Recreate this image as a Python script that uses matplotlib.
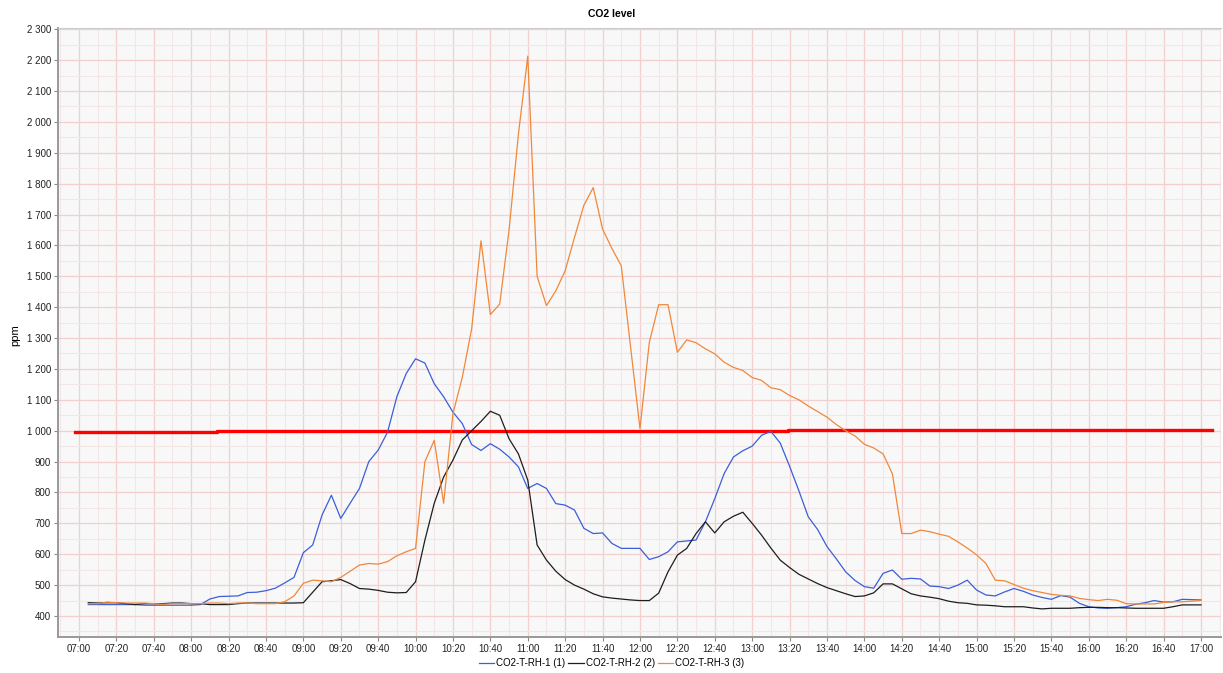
import numpy as np
import pandas as pd
import matplotlib
matplotlib.use("Agg")
import matplotlib.pyplot as plt
from matplotlib.ticker import MultipleLocator, FuncFormatter

# sampling times (every 5 min, 07:05 .. 17:00)
times = pd.date_range("2000-01-01 07:05", "2000-01-01 17:00", freq="5min")

co2_rh_1 = [
    437, 437, 437, 437, 437, 437, 435, 435, 435, 435, 435, 435,
    437, 455, 463, 464, 465, 476, 477, 482, 490, 507, 525, 605,
    630, 727, 791, 716, 765, 813, 900, 937, 995, 1110, 1185, 1233,
    1219, 1152, 1110, 1060, 1023, 955, 936, 958, 940, 915, 883, 813,
    829, 813, 764, 759, 743, 684, 667, 669, 635, 619, 619, 619,
    583, 592, 608, 640, 643, 646, 705, 780, 861, 915, 935, 950,
    985, 998, 960, 885, 805, 721, 680, 625, 585, 543, 515, 495,
    490, 538, 549, 519, 522, 520, 497, 495, 489, 500, 516, 484,
    468, 465, 478, 489, 480, 468, 460, 454, 466, 461, 441, 430,
    426, 425, 427, 430, 438, 443, 450, 445, 446, 454, 453, 452,
]

co2_rh_2 = [
    443, 442, 443, 443, 440, 437, 440, 440, 440, 442, 442, 440,
    440, 437, 437, 437, 440, 442, 442, 442, 442, 442, 442, 443,
    477, 511, 514, 518, 505, 489, 487, 483, 477, 475, 476, 511,
    646, 765, 850, 905, 970, 1000, 1030, 1063, 1050, 974, 925, 840,
    630, 581, 545, 518, 500, 487, 472, 462, 458, 455, 452, 450,
    450, 474, 543, 597, 619, 667, 705, 669, 705, 723, 736, 700,
    662, 620, 581, 557, 535, 520, 505, 492, 482, 472, 463, 465,
    475, 504, 504, 488, 472, 465, 461, 456, 448, 443, 441, 436,
    435, 433, 430, 430, 430, 426, 423, 425, 425, 425, 427, 428,
    428, 427, 427, 426, 425, 425, 425, 425, 430, 436, 436, 436,
]

co2_rh_3 = [
    440, 440, 445, 443, 442, 442, 442, 440, 438, 440, 440, 440,
    440, 442, 442, 440, 442, 442, 440, 440, 440, 446, 465, 506,
    516, 514, 511, 525, 545, 565, 570, 568, 576, 595, 608, 619,
    900, 969, 765, 1055, 1173, 1330, 1615, 1376, 1410, 1650, 1960, 2213,
    1500, 1405, 1453, 1518, 1626, 1730, 1787, 1653, 1590, 1534, 1270, 1007,
    1286, 1408, 1408, 1254, 1294, 1285, 1265, 1249, 1222, 1205, 1195, 1172,
    1163, 1139, 1133, 1114, 1100, 1080, 1062, 1044, 1020, 1000, 983, 956,
    944, 925, 860, 667, 667, 678, 673, 665, 658, 640, 620, 598,
    570, 516, 514, 502, 490, 482, 476, 470, 467, 465, 457, 453,
    450, 454, 451, 440, 439, 439, 439, 444, 446, 446, 448, 450,
]

# limit line (stepwise)
limit_times = ["06:58", "08:14", "08:14", "13:19", "13:19", "15:50", "15:50", "17:06"]
limit_values = [997, 997, 999, 999, 1001, 1001, 1003, 1003]

series_names = ["CO2-T-RH-1 (1)", "CO2-T-RH-2 (2)", "CO2-T-RH-3 (3)"]
series_colors = ["#3a5fd8", "#1e1e1e", "#f0883a"]

plt.rcParams["font.family"] = ["Liberation Sans", "DejaVu Sans"]


def to_minutes(t):
    return (t.hour - 7) * 60 + t.minute


x = np.array([to_minutes(t) for t in times])
limit_x = [to_minutes(pd.Timestamp("2000-01-01 " + s)) for s in limit_times]

fig = plt.figure(figsize=(12.23, 6.73), dpi=100)
ax = fig.add_axes([58 / 1223, 1 - 637 / 673, 1163 / 1223, 609 / 673])
ax.set_facecolor("#f8f8f8")

ax.plot(limit_x, limit_values, color="#ff0000", lw=2.4, zorder=3)
for vals, name, col in zip([co2_rh_1, co2_rh_2, co2_rh_3], series_names, series_colors):
    ax.plot(x, vals, color=col, lw=0.9, label=name, zorder=4)

ax.set_xlim(-11.2, 610.7)
ax.set_ylim(332, 2304)

ax.xaxis.set_major_locator(MultipleLocator(20))
ax.xaxis.set_minor_locator(MultipleLocator(10))
ax.yaxis.set_major_locator(MultipleLocator(100))
ax.yaxis.set_minor_locator(MultipleLocator(50))
ax.xaxis.set_major_formatter(FuncFormatter(
    lambda v, p: "%02d:%02d" % (7 + int(v) // 60, int(v) % 60) if 0 <= v <= 600 else ""))
ax.yaxis.set_major_formatter(FuncFormatter(
    lambda v, p: ("{:,}".format(int(v)).replace(",", " ")) if v >= 400 else ""))

ax.grid(which="major", color="#f2d0d0", lw=0.9)
ax.grid(which="minor", color="#f3e6e6", lw=0.8)
ax.set_axisbelow(True)

ax.tick_params(axis="both", which="major", labelsize=7, length=3, width=0.8,
               color="#888888", labelcolor="#222222", pad=2)
ax.tick_params(axis="both", which="minor", length=0)

for side in ["left", "bottom"]:
    ax.spines[side].set_color("#999999")
    ax.spines[side].set_linewidth(1.4)
ax.spines["top"].set_color("#cccccc")
ax.spines["top"].set_linewidth(0.8)
ax.spines["right"].set_visible(False)

fig.text(0.5, 1 - 14 / 673, "CO2 level", ha="center", va="center",
         fontsize=7.5, fontweight="bold")
fig.text(15 / 1223, 1 - 335 / 673, "ppm", rotation=90, ha="center", va="center",
         fontsize=8)

fig.legend(loc="center", bbox_to_anchor=(0.5, 1 - 663 / 673), ncol=3, frameon=False,
           fontsize=7, handlelength=1.6, handletextpad=0.2, columnspacing=0.3)

fig.savefig("out.png", dpi=100)
